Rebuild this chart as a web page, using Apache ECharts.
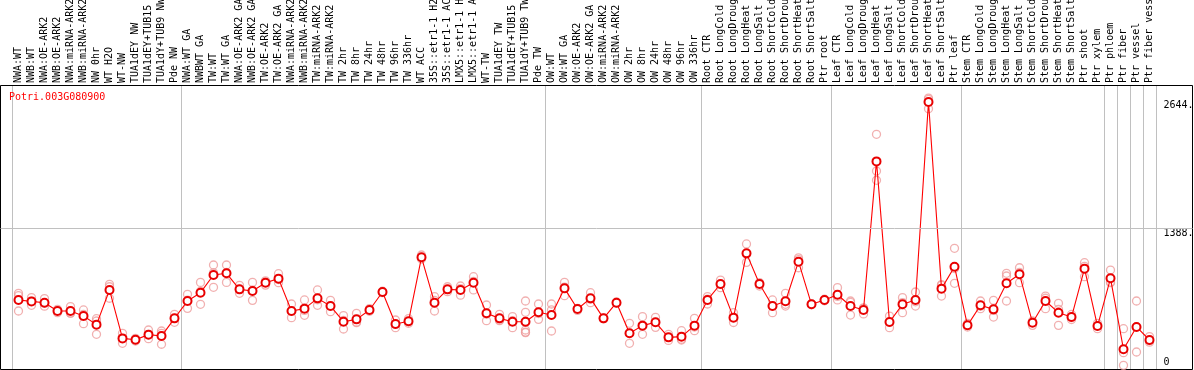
<!DOCTYPE html>
<html>
<head>
<meta charset="utf-8">
<script src="https://cdn.jsdelivr.net/npm/echarts@6/dist/echarts.min.js"></script>
<style>
  html, body { margin: 0; padding: 0; background: #fff; }
  #chart { width: 1194px; height: 370px; }
</style>
</head>
<body>
<div id="chart"></div>
<script>
var geneName = "Potri.003G080900";

var categories = [
  "NWA:WT", "NWB:WT", "NWA:OE-ARK2", "NWB:OE-ARK2", "NWA:miRNA-ARK2", "NWB:miRNA-ARK2",
  "NW 0hr", "WT H2O", "WT-NW", "TUA1dEY NW", "TUA1dEY+TUB15", "TUA1dY+TUB9 NW", "Pde NW",
  "NWA:WT GA", "NWBWT GA", "TW:WT", "TW:WT GA", "NWA:OE-ARK2 GA", "NWB:OE-ARK2 GA",
  "TW:OE-ARK2", "TW:OE-ARK2 GA", "NWA:miRNA-ARK2", "NWB:miRNA-ARK2", "TW:miRNA-ARK2",
  "TW:miRNA-ARK2", "TW 2hr", "TW 8hr", "TW 24hr", "TW 48hr", "TW 96hr", "TW 336hr",
  "WT ACC", "35S::etr1-1 H2O", "35S::etr1-1 ACC", "LMX5::etr1-1 H2O", "LMX5::etr1-1 ACC",
  "WT-TW", "TUA1dEY TW", "TUA1dEY+TUB15", "TUA1dY+TUB9 TW", "Pde TW",
  "OW:WT", "OW:WT GA", "OW:OE-ARK2", "OW:OE-ARK2 GA", "OW:miRNA-ARK2", "OW:miRNA-ARK2",
  "OW 2hr", "OW 8hr", "OW 24hr", "OW 48hr", "OW 96hr", "OW 336hr",
  "Root CTR", "Root LongCold", "Root LongDrought", "Root LongHeat", "Root LongSalt",
  "Root ShortCold", "Root ShortDrought", "Root ShortHeat", "Root ShortSalt", "Ptr root",
  "Leaf CTR", "Leaf LongCold", "Leaf LongDrought", "Leaf LongHeat", "Leaf LongSalt",
  "Leaf ShortCold", "Leaf ShortDrought", "Leaf ShortHeat", "Leaf ShortSalt", "Ptr leaf",
  "Stem CTR", "Stem LongCold", "Stem LongDrought", "Stem LongHeat", "Stem LongSalt",
  "Stem ShortCold", "Stem ShortDrought", "Stem ShortHeat", "Stem ShortSalt", "Ptr shoot",
  "Ptr xylem", "Ptr phloem", "Ptr fiber", "Ptr vessel", "Ptr fiber vessel"
];

// mean expression per sample
var means = [
  683, 669, 656, 574, 574, 524, 439, 782, 303, 290, 340, 326, 501,
  673, 755, 930, 947, 788, 772, 854, 894, 574, 597, 699, 623, 468, 491, 584, 762, 445, 472,
  1105, 656, 788, 782, 854, 551, 501, 468, 468, 561,
  534, 798, 594, 699, 501, 656, 353, 429, 462, 313, 320, 429,
  683, 841, 508, 1144, 841, 623, 670, 1062, 640, 683,
  735, 623, 584, 2054, 465, 640, 683, 2641, 795, 1012,
  432, 630, 590, 848, 937, 458, 673, 557, 514, 993, 425,
  897, 195, 416, 287
];

// replicate values per sample
var replicates = [
  [749, 725, 574], [706, 672, 630], [696, 650, 622], [590, 575, 557], [617, 553, 552],
  [584, 540, 448], [498, 475, 343], [838, 814, 700], [353, 303, 254], [303, 290, 277],
  [386, 343, 300], [376, 353, 330, 245], [541, 501, 462],
  [739, 680, 600], [857, 768, 640], [1029, 952, 808], [1029, 955, 857], [828, 788, 749],
  [857, 780, 679], [872, 860, 830], [943, 885, 854], [643, 572, 508], [683, 580, 531],
  [782, 685, 630], [679, 623, 567], [528, 480, 396], [551, 465, 458], [597, 584, 571],
  [770, 762, 755], [485, 441, 409], [498, 466, 452],
  [1128, 1100, 1088], [716, 678, 574], [814, 785, 765], [821, 795, 730], [913, 867, 782],
  [633, 542, 478], [541, 485, 478], [518, 478, 409], [673, 561, 465, 386, 360, 365],
  [643, 549, 491],
  [643, 584, 376], [857, 810, 725], [600, 594, 580], [755, 690, 656], [505, 501, 497],
  [663, 656, 650], [452, 353, 254], [518, 430, 343], [511, 462, 412], [343, 313, 283],
  [379, 295, 287], [501, 415, 379],
  [716, 690, 643], [880, 838, 805], [557, 508, 460], [1237, 1140, 1055], [855, 848, 821],
  [683, 623, 557], [749, 640, 623], [1100, 1082, 1002], [645, 640, 635], [690, 683, 675],
  [805, 718, 683], [673, 660, 534], [605, 600, 545], [2322, 1959, 1867], [524, 462, 409],
  [706, 657, 557], [762, 665, 623], [2681, 2667, 2575], [828, 835, 722], [1194, 994, 848],
  [450, 432, 415], [673, 620, 597], [679, 580, 514], [947, 920, 673], [1002, 955, 854],
  [475, 465, 432], [722, 700, 597], [650, 590, 432], [540, 510, 490], [1052, 1015, 913],
  [452, 425, 399],
  [979, 860, 854], [399, 162, 36], [673, 416, 168], [320, 280, 265]
];

// first sample index of each group (gray separators)
var groupStarts = [0, 13, 41, 53, 63, 73, 84, 85, 86, 87];

var tickValues = [0, 1388, 2644];
var yMax = 2800;

var repPoints = [];
replicates.forEach(function (reps, i) {
  reps.forEach(function (v) {
    repPoints.push([i, v]);
  });
});

var mono = "DejaVu Sans Mono";
var chart = echarts.init(document.getElementById("chart"));

chart.setOption({
  animation: false,
  backgroundColor: "#fff",
  title: {
    text: geneName,
    left: 9,
    top: 92,
    padding: 0,
    textStyle: { color: "#ff0000", fontFamily: mono, fontSize: 10, fontWeight: "normal" }
  },
  grid: [
    { left: 12, width: 1144, top: 86, height: 283, outerBoundsMode: "none", containLabel: false },
    {
      left: 0.5, width: 1192, top: 85.5, height: 284, outerBoundsMode: "none", containLabel: false,
      show: true, borderColor: "#000", borderWidth: 1
    }
  ],
  xAxis: [
    {
      type: "category",
      gridIndex: 0,
      position: "top",
      data: categories,
      boundaryGap: true,
      axisLine: { show: false },
      axisTick: { show: false },
      axisLabel: {
        interval: 0,
        rotate: 90,
        margin: 3,
        color: "#000",
        fontFamily: mono,
        fontSize: 10
      },
      splitLine: {
        show: true,
        interval: function (index) {
          return groupStarts.indexOf(index) >= 0;
        },
        lineStyle: { color: "#c0c0c0", width: 1 }
      }
    },
    { type: "value", gridIndex: 1, min: 0, max: 1, show: false }
  ],
  yAxis: [
    { type: "value", gridIndex: 0, min: 0, max: yMax, show: false },
    {
      type: "value",
      gridIndex: 1,
      min: 0,
      max: yMax,
      position: "right",
      axisLine: { show: false },
      axisTick: { show: false },
      splitLine: { show: false },
      axisLabel: {
        inside: true,
        margin: 29,
        align: "left",
        customValues: tickValues,
        verticalAlign: "middle",
        color: "#000",
        fontFamily: mono,
        fontSize: 10,
        formatter: function (v) {
          return v === 0 ? "{lo|0}" : "{hi|" + v + ".}";
        },
        rich: {
          lo: { fontFamily: mono, fontSize: 10, color: "#000", padding: [0, 0, 14, 0] },
          hi: { fontFamily: mono, fontSize: 10, color: "#000", padding: [9, 0, 0, 0] }
        }
      }
    }
  ],
  series: [
    {
      type: "line",
      xAxisIndex: 1,
      yAxisIndex: 1,
      data: [],
      markLine: {
        silent: true,
        symbol: ["none", "none"],
        label: { show: false },
        lineStyle: { color: "#c0c0c0", width: 1, type: "solid" },
        data: [{ yAxis: tickValues[1] }]
      }
    },
    {
      name: "replicates",
      type: "scatter",
      xAxisIndex: 0,
      yAxisIndex: 0,
      data: repPoints,
      symbol: "circle",
      symbolSize: 8,
      itemStyle: { color: "rgba(0,0,0,0)", borderColor: "#ee9c9c", borderWidth: 1.3 },
      z: 2
    },
    {
      name: "mean",
      type: "line",
      xAxisIndex: 0,
      yAxisIndex: 0,
      data: means,
      showAllSymbol: true,
      symbol: "emptyCircle",
      symbolSize: 8,
      lineStyle: { color: "#ff0000", width: 1.1 },
      itemStyle: { color: "#e80000", borderWidth: 1.4 },
      z: 3
    }
  ]
});
</script>
</body>
</html>
